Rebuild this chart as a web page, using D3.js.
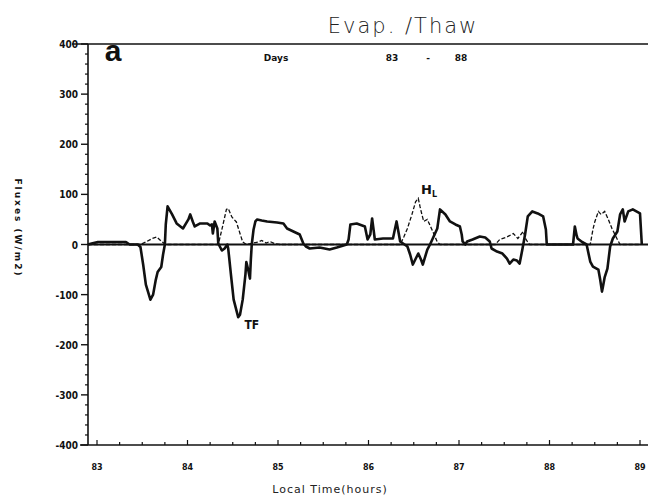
<!DOCTYPE html>
<html><head><meta charset="utf-8">
<script src="https://cdn.jsdelivr.net/npm/d3@7"></script>
<style>body{margin:0;background:#fff}svg{display:block}</style>
</head><body>
<svg id="c" width="648" height="501"></svg>
<script>
// ---- data (days, W/m2) ----
const dayTicks = [83, 84, 85, 86, 87, 88, 89];
const yTicks = [400, 300, 200, 100, 0, -100, -200, -300, -400];
const yTickLabels = ["400", "300", "200", "100", "0", "-100", "-200", "-300", "-400"];

const tfTime = [82.90,82.94,83.01,83.32,83.36,83.45,83.48,83.51,83.54,83.59,83.62,83.65,83.67,83.71,83.73,83.75,83.76,83.78,83.83,83.88,83.95,84.01,84.03,84.06,84.08,84.14,84.22,84.25,84.27,84.28,84.30,84.33,84.34,84.36,84.38,84.41,84.44,84.45,84.48,84.51,84.56,84.58,84.61,84.64,84.65,84.67,84.69,84.70,84.71,84.73,84.75,84.77,84.82,84.88,84.99,85.06,85.10,85.17,85.24,85.28,85.31,85.35,85.46,85.57,85.65,85.76,85.78,85.80,85.87,85.96,85.99,86.02,86.04,86.07,86.16,86.27,86.31,86.35,86.43,86.46,86.49,86.55,86.58,86.60,86.65,86.68,86.76,86.79,86.85,86.90,86.96,87.01,87.03,87.04,87.07,87.09,87.15,87.23,87.29,87.34,87.36,87.42,87.48,87.53,87.56,87.60,87.64,87.67,87.70,87.71,87.73,87.76,87.81,87.87,87.93,87.96,87.97,88.12,88.26,88.28,88.30,88.31,88.36,88.41,88.45,88.48,88.54,88.56,88.58,88.59,88.61,88.64,88.67,88.70,88.75,88.78,88.81,88.83,88.87,88.92,89.00,89.02];
const tfValue = [0,2,5,5,0,0,-5,-40,-80,-110,-100,-70,-55,-45,-20,0,40,76,60,42,32,50,60,45,36,42,42,38,40,22,46,32,2,-5,-12,-8,0,-8,-60,-110,-145,-140,-110,-60,-35,-50,-68,-30,0,30,46,50,48,46,44,42,32,26,20,2,-4,-8,-6,-10,-6,0,10,40,42,36,10,20,52,10,12,12,46,6,-4,-20,-40,-18,-30,-40,-10,0,32,70,60,46,40,36,20,6,0,6,10,16,14,6,-8,-14,-18,-28,-38,-30,-32,-38,-10,0,20,56,66,62,56,30,0,0,0,36,18,12,5,0,-34,-44,-50,-70,-94,-85,-65,-48,-4,12,26,60,70,46,66,70,62,0];

const hlTime = [82.90,83.48,83.54,83.61,83.66,83.72,83.76,84.34,84.38,84.43,84.45,84.49,84.54,84.58,84.61,84.65,84.78,84.82,84.87,84.91,84.96,85.02,86.35,86.39,86.43,86.48,86.52,86.55,86.57,86.59,86.61,86.65,86.68,86.71,86.76,86.79,87.40,87.45,87.53,87.60,87.65,87.71,87.74,87.78,88.45,88.48,88.50,88.54,88.57,88.61,88.65,88.69,88.75,88.78,89.00];
const hlValue = [0,0,5,12,15,5,0,0,30,70,72,55,45,22,5,0,5,8,3,6,2,0,0,15,32,60,85,92,75,60,46,50,38,26,5,0,0,10,15,22,12,26,10,0,0,30,45,66,60,66,50,32,10,0,0];

// ---- chart ----
const svg = d3.select("#c");
const x = d3.scaleLinear().domain([83, 89]).range([97, 640]);
const y = d3.scaleLinear().domain([-400, 400]).range([445, 44]);
const X0 = 88, X1 = 648;
const ink = "#111";

// frame: left axis, top line, bottom axis
svg.append("line").attr("x1", X0).attr("x2", X0).attr("y1", y(400)).attr("y2", y(-400)).attr("stroke", ink).attr("stroke-width", 1.6);
svg.append("line").attr("x1", 72).attr("x2", X1).attr("y1", y(400)).attr("y2", y(400)).attr("stroke", ink).attr("stroke-width", 1.6);
svg.append("line").attr("x1", 80).attr("x2", X1).attr("y1", y(-400)).attr("y2", y(-400)).attr("stroke", ink).attr("stroke-width", 1.6);

// y ticks
const yMinor = d3.range(-400, 401, 20).filter(v => v % 100 !== 0);
svg.selectAll(".ym").data(yMinor).join("line")
  .attr("x1", X0 - 3).attr("x2", X0).attr("y1", d => y(d)).attr("y2", d => y(d))
  .attr("stroke", ink).attr("stroke-width", 1.2);
svg.selectAll(".yM").data(yTicks).join("line")
  .attr("x1", X0 - 7).attr("x2", X0).attr("y1", d => y(d)).attr("y2", d => y(d))
  .attr("stroke", ink).attr("stroke-width", 1.4);
svg.selectAll(".yl").data(yTicks).join("text")
  .attr("x", 78).attr("y", d => y(d) + 4).attr("text-anchor", "end")
  .attr("font-family", "DejaVu Sans Condensed, DejaVu Sans").attr("font-weight", "bold").attr("font-size", 10)
  .attr("fill", ink).text((d, i) => yTickLabels[i]);

// zero line
svg.append("line").attr("x1", X0).attr("x2", X1).attr("y1", y(0)).attr("y2", y(0)).attr("stroke", ink).attr("stroke-width", 2);

// x ticks
const xMinor = d3.range(83, 89.01, 0.25);
svg.selectAll(".xm").data(xMinor).join("line")
  .attr("x1", d => x(d)).attr("x2", d => x(d)).attr("y1", y(-400)).attr("y2", d => y(-400) - (Math.abs(d - Math.round(d)) < 0.01 ? 5 : 3))
  .attr("stroke", ink).attr("stroke-width", 1.2);
svg.selectAll(".xl").data(dayTicks).join("text")
  .attr("x", d => x(d)).attr("y", 470).attr("text-anchor", "middle")
  .attr("font-family", "DejaVu Sans").attr("font-weight", "bold").attr("font-size", 8)
  .attr("fill", ink).text(d => d);

// series
const line = d3.line().x(d => x(d[0])).y(d => y(d[1])).curve(d3.curveLinear);
const hl = hlTime.map((t, i) => [t, hlValue[i]]);
const tf = tfTime.map((t, i) => [t, tfValue[i]]);
svg.append("path").attr("d", line(hl)).attr("fill", "none").attr("stroke", ink)
  .attr("stroke-width", 1.3).attr("stroke-dasharray", "4,2");
svg.append("path").attr("d", line(tf)).attr("fill", "none").attr("stroke", ink)
  .attr("stroke-width", 2.6).attr("stroke-linejoin", "round");

// texts
svg.append("text").attr("x", 403).attr("y", 33).attr("text-anchor", "middle")
  .attr("font-family", "DejaVu Sans").attr("font-weight", 200).attr("font-size", 21)
  .attr("letter-spacing", 2).attr("fill", "#222").text("Evap. /Thaw");
svg.append("text").attr("x", 113).attr("y", 61).attr("text-anchor", "middle")
  .attr("font-family", "Liberation Sans").attr("font-weight", "bold").attr("font-size", 30)
  .attr("fill", ink).text("a");
const dy = 61;
[["Days", 276], ["83", 392], ["-", 428], ["88", 461]].forEach(([t, px]) => {
  svg.append("text").attr("x", px).attr("y", dy).attr("text-anchor", "middle")
    .attr("font-family", "DejaVu Sans").attr("font-weight", "bold").attr("font-size", 9)
    .attr("fill", ink).text(t);
});
svg.append("text").attr("x", 330).attr("y", 493).attr("text-anchor", "middle")
  .attr("font-family", "DejaVu Sans").attr("font-size", 11).attr("letter-spacing", 1)
  .attr("fill", "#222").text("Local Time(hours)");
svg.append("text").attr("transform", "translate(15,228) rotate(90)").attr("text-anchor", "middle")
  .attr("font-family", "DejaVu Sans").attr("font-weight", "bold").attr("font-size", 9).attr("letter-spacing", 2)
  .attr("fill", ink).text("Fluxes (W/m2)");
svg.append("text").attr("x", x(84.63)).attr("y", 329)
  .attr("font-family", "DejaVu Sans Condensed, DejaVu Sans").attr("font-weight", "bold").attr("font-size", 12)
  .attr("fill", ink).text("TF");
const hlt = svg.append("text").attr("x", x(86.58)).attr("y", 194)
  .attr("font-family", "DejaVu Sans").attr("font-weight", "bold").attr("font-size", 13).attr("fill", ink);
hlt.append("tspan").text("H");
hlt.append("tspan").attr("font-size", 8).attr("dy", 3).text("L");
</script>
</body></html>
